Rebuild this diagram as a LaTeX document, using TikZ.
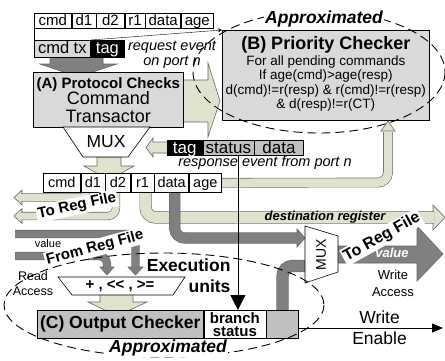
\documentclass[tikz,border=0pt]{standalone}
\usepackage{fontspec}
\setmainfont{Liberation Sans}
\usetikzlibrary{positioning,arrows.meta,backgrounds}
\definecolor{bandgreen}{RGB}{223,227,206}
\definecolor{bandgray}{RGB}{128,128,128}
\definecolor{boxgray}{RGB}{217,217,217}
\definecolor{darkbox}{RGB}{192,192,192}
\newcommand{\fsz}[2]{\fontsize{#1}{#2}\selectfont}
\begin{document}
\begin{tikzpicture}[x=1pt,y=-1pt,line width=0.6pt,
  field/.style={draw,fill=white,inner sep=0pt,minimum height=15pt,text height=11pt,text depth=2pt,font=\fsz{15}{15}},
  rfield/.style={draw,fill=white,inner sep=0pt,minimum height=19pt,text height=10.5pt,text depth=1.5pt,font=\fsz{14.5}{14.5}},
  tfield/.style={draw,inner sep=0pt,minimum height=15pt,text height=12.5pt,text depth=2pt,font=\fsz{17}{17}},
  greenband/.style={draw=black!60,double=bandgreen,line width=0.6pt,rounded corners=8pt},
  grayband/.style={draw=black!60,double=bandgray,line width=0.6pt,rounded corners=8pt},
  greenhead/.style={draw=black!60,fill=bandgreen,line width=0.6pt},
  grayhead/.style={draw=black!60,fill=bandgray,line width=0.6pt},
  approx/.style={fill=white,inner sep=1pt,font=\fsz{17.5}{17.5}\bfseries\itshape},
  regtxt/.style={fill=white,inner sep=1.5pt,font=\bfseries},
  approxline/.style={dash pattern=on 9pt off 5pt,line width=0.9pt}]
\useasboundingbox (0,0) rectangle (445,360);

% request event
\node[field,minimum width=37pt,anchor=north west] (qcmd) at (34,13) {cmd};
\node[field,minimum width=24pt,right=0pt of qcmd] (qd1) {d1};
\node[field,minimum width=28pt,right=0pt of qd1] (qd2) {d2};
\node[field,minimum width=20pt,right=0pt of qd2] (qr1) {r1};
\node[field,minimum width=35pt,right=0pt of qr1] (qdata) {data};
\node[field,minimum width=32pt,right=0pt of qdata] (qage) {age};
\node[field,minimum height=17pt,text height=12pt,minimum width=56pt,fill=boxgray,font=\fsz{16.5}{16.5},anchor=north west] (cmdtx) at (34,40) {cmd tx};
\node[field,minimum height=17pt,text height=12pt,minimum width=33pt,fill=black,text=white,font=\fsz{16.5}{16.5},right=0pt of cmdtx] (qtag) {tag};
\node[font=\fsz{14.5}{14.5}\itshape,align=center] (reqev) at (172,55) {request event\\on port n};

% checkers
\node[draw,fill=boxgray,minimum width=150pt,minimum height=55pt,anchor=north west,inner sep=0pt,align=center,font=\fsz{18}{17.5}] (protA) at (33,72) {{\bfseries\fsz{15}{15}(A) Protocol Checks}\\[-1pt]Command\\Transactor};
\node[draw,fill=boxgray,minimum width=207pt,minimum height=90pt,anchor=north west,inner sep=0pt] (prioB) at (222,30) {};
\node[align=center,font=\fsz{13.5}{14.5},below=3pt of prioB.north] (prioBtxt) {{\bfseries\fsz{18}{18}(B) Priority Checker}\\[1pt]For all pending commands\\If age(cmd)>age(resp)\\d(cmd)!=r(resp) \& r(cmd)!=r(resp)\\\& d(resp)!=r(CT)};

% mux and response event
\draw[fill=white] (63,127) -- (150,127) -- (128,157) -- (83,157) -- cycle;
\node[font=\fsz{17.5}{17.5}] (mux1) at (106,142) {MUX};
\node[tfield,minimum width=35pt,fill=black,text=white,anchor=north west] (rtag) at (167,140) {tag};
\node[tfield,minimum width=51pt,fill=darkbox,right=0pt of rtag] (rstatus) {status};
\node[tfield,minimum width=49pt,fill=darkbox,right=0pt of rstatus] (rdata) {data};
\node[font=\fsz{14.5}{14.5}\itshape] (respev) at (265,163) {response event from port n};

% fields
\node[rfield,minimum width=37pt,anchor=north west] (fcmd) at (43,173) {cmd};
\node[rfield,minimum width=24pt,right=0pt of fcmd] (fd1) {d1};
\node[rfield,minimum width=25pt,right=0pt of fd1] (fd2) {d2};
\node[rfield,minimum width=23pt,right=0pt of fd2] (fr1) {r1};
\node[rfield,minimum width=34pt,right=0pt of fr1] (fdata) {data};
\node[rfield,minimum width=32pt,right=0pt of fdata] (fage) {age};

% write side
\draw[fill=white] (305,226) -- (338,236) -- (338,272) -- (305,283) -- cycle;
\node[rotate=90,font=\fsz{14}{14}] (mux2) at (321,255) {MUX};

% execution and output checker
\draw[fill=white] (58,277) -- (185,277) -- (173,295) -- (72,295) -- cycle;
\node[font=\fsz{15}{15}\bfseries] (exec) at (120,286) {+ , <\kern0pt< , >\kern0pt=};
\node[draw,fill=darkbox,minimum width=166pt,minimum height=28pt,anchor=north west,inner sep=0pt,font=\fsz{17.5}{17.5}\bfseries] (outC) at (37,310) {(C) Output Checker};
\node[draw,fill=white,minimum width=62pt,minimum height=28pt,inner sep=0pt,align=center,font=\fsz{15}{13}\bfseries,right=0pt of outC] (branch) {branch\\status};
\node[draw,fill=darkbox,minimum width=32pt,minimum height=28pt,right=0pt of branch] (wen) {};

\begin{pgfonlayer}{background}
  \draw[greenhead] (protA.east |- 0,80) -- (208,80) -- (208,63) -- (220,101) -- (208,137) -- (208,122) -- (protA.east |- 0,122);
  \draw[grayhead] (50,57) -- (103,57) -- (103,64) -- (117,64) -- (78,77) -- (40,64) -- (50,64) -- cycle;
  \draw[greenhead] (97,157) -- (121,157) -- (121,166) -- (134,166) -- (109,180) -- (84,166) -- (97,166) -- cycle;
  \draw[greenhead] (rtag.west |- 0,142) -- (153,142) -- (153,138) -- (146,147.5) -- (153,157) -- (153,153) -- (rtag.west |- 0,153);
  % heads
  \draw[greenhead] (381,131) -- (388,121) -- (395,131) -- cycle;
  \draw[greenhead] (22,190) -- (14,197.5) -- (22,205) -- cycle;
  \draw[greenhead] (22,208.5) -- (14,216) -- (22,223.5) -- cycle;
  \draw[greenhead] (433,205) -- (445,217.5) -- (433,230) -- cycle;
  \draw[grayhead] (297,229) -- (305,238) -- (297,247) -- cycle;
  \draw[grayhead] (128,267) -- (135.5,275) -- (143,267) -- cycle;
  \draw[grayhead] (100,267) -- (107,275) -- (114,267) -- cycle;
  % bands
  \draw[greenband,double distance=8.5pt,rounded corners=10pt] (fage.east) -- (388,182.5) -- (388,132);
  \draw[greenband,double distance=7pt,rounded corners=6pt] ([xshift=-7pt]fd1.south) |- (21,197.5);
  \draw[greenband,double distance=7pt] ([xshift=-2pt]fd2.south) |- (21,216);
  \draw[greenband,double distance=11pt,rounded corners=10pt] ([xshift=3pt]fr1.south) |- (434,217.5);
  \draw[grayband,double distance=10pt,rounded corners=10pt] ([xshift=3pt]fdata.south) |- (298,238);
  \draw[grayband,double distance=7pt] (15,234) -| (135.5,268);
  \draw[grayband,double distance=7pt] (15,256) -| (107,268);
  \draw[grayband,double distance=11pt,rounded corners=10pt] (wen.north) |- (306,266);
  \draw[grayhead] (338,246) -- (417,246) -- (417,226) -- (443,254) -- (417,281) -- (417,263) -- (338,263);
  \draw[greenhead] (100,294) -- (133,294) -- (133,302) -- (147,302) -- (117,316) -- (88,302) -- (100,302) -- cycle;
\end{pgfonlayer}

% links
\draw (qcmd.south west) -- (cmdtx.north west);
\draw[-{Stealth[length=4pt,width=4pt]}] (qtag.north west) -- (prioB.north west);
\coordinate (brin) at ([xshift=3pt]branch.north);
\draw[line width=0.8pt,-{Triangle[length=15pt,width=15pt]}] (rstatus.south -| brin) -- (brin);
\coordinate (weend) at (443,328);
\draw[line width=0.8pt,-{Triangle[length=11pt,width=9pt]}] (wen.east |- weend) -- (weend)
  node[pos=0.56,anchor=base,yshift=5pt,inner sep=0pt,font=\fsz{17.5}{17.5}] (wlab) {Write}
  node[pos=0.56,anchor=base,yshift=-16pt,inner sep=0pt,font=\fsz{17.5}{17.5}] (elab) {Enable};

% labels
\node[font=\fsz{13}{13}\bfseries\itshape] (dreg) at (325,217.5) {destination register};
\node[font=\fsz{11}{11}] (lval) at (48,244) {value};
\node[font=\fsz{12.5}{15},align=center] (racc) at (33,284) {Read\\Access};
\node[font=\fsz{17.5}{21}\bfseries,align=right,anchor=east] (exlab) at (234,276) {Execution\\units};
\node[font=\fsz{13}{17},align=center] (wacc) at (393,283) {Write\\Access};
\node[regtxt,rotate=12,font=\fsz{15}{15}\bfseries] (toreg1) at (77,206) {To Reg File};
\node[regtxt,rotate=15,font=\fsz{15}{15}\bfseries] (fromreg) at (95,248) {From Reg File};
\node[regtxt,rotate=29,font=\fsz{16}{16}\bfseries] (toreg2) at (382,237) {To Reg File};
\node[text=white,font=\fsz{13}{13}\bfseries\itshape] (rval) at (392,253) {value};

% approximated regions
\draw[approxline] (319,72) ellipse [x radius=126, y radius=61];
\draw[approxline] (164,305) ellipse [x radius=160, y radius=52];
\node[approx] (apB) at (324,19) {Approximated};
\node[approx] (apC) at (168,348) {Approximated};
\end{tikzpicture}
\end{document}
